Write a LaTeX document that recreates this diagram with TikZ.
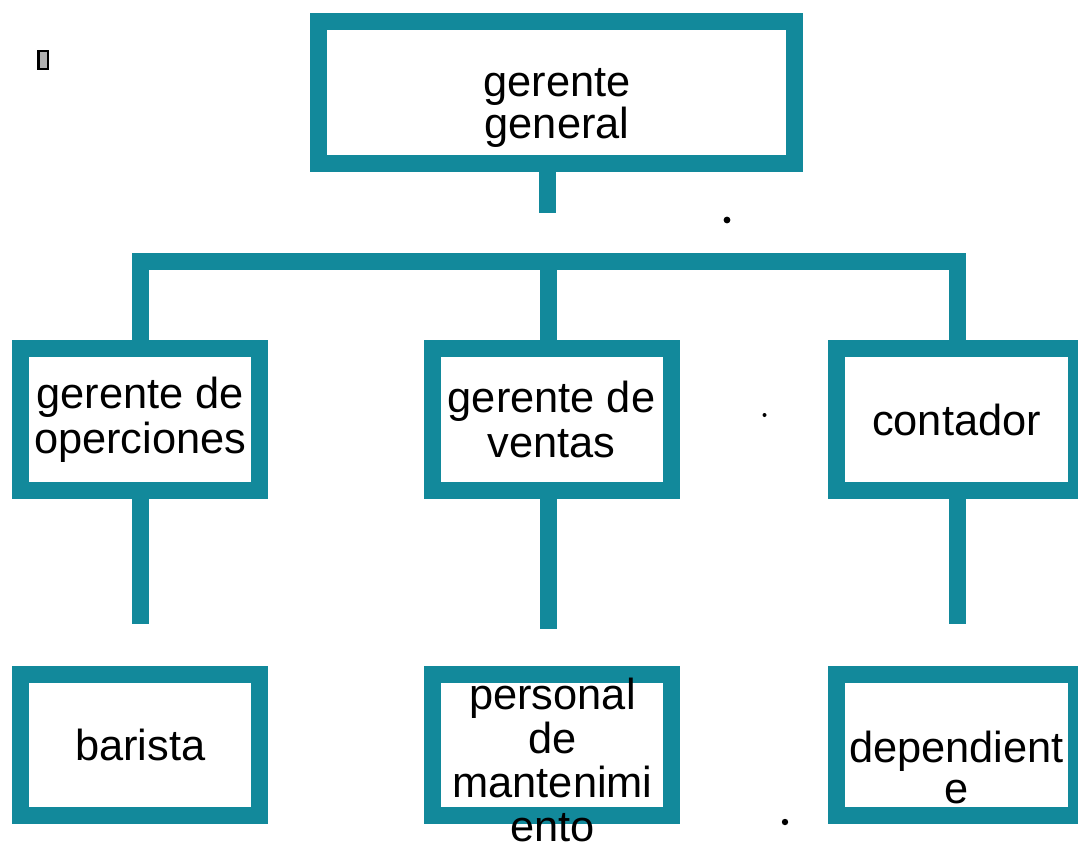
\documentclass[tikz,border=0pt]{standalone}
\usepackage{fontspec}
\setmainfont{Liberation Sans}
\usepackage{xcolor}
\definecolor{orgteal}{HTML}{12899B}
\usepackage{tikz}
\usetikzlibrary{positioning}
\tikzstyle{block} = [rectangle, draw=orgteal, line width=8.5pt, 
    minimum width=119.5pt, minimum height=71pt, align=center,
    font=\fontsize{21.7pt}{22.5pt}\selectfont, node distance=162.75pt]
\tikzstyle{caption} = [align=center, inner sep=0pt,
    font=\fontsize{21.7pt}{22.5pt}\selectfont]
\tikzstyle{line} = [draw=orgteal, line width=8.5pt]

\begin{document}
\begin{tikzpicture}[x=0.5pt,y=-0.5pt]
    \useasboundingbox (0,0) rectangle (1078,848);
    % Place nodes
    \node [block,minimum width=238pt] (gg) at (556.5,92.5) {};
    \node [caption,font=\fontsize{21.7pt}{19pt}\selectfont] (gg-t) at (557,108) {gerente\\general};
    \node [block] (op) at (140.3,419.5) {gerente de\\operciones};
    \node [block,node distance=205.6pt,right of=op] (ve) {gerente de\\ventas};
    \node [block,node distance=202.5pt,minimum width=120pt,right of=ve] (co) {contador};
    \node [block,minimum height=70.5pt,below of=op] (ba) {barista};
    \node [block,minimum height=70.5pt,below of=ve] (pm) {};
    \node [block,minimum height=70.5pt,minimum width=120pt,below of=co] (de) {};
    \node [caption,font=\fontsize{21.7pt}{22pt}\selectfont] (pm-t) at (552.5,760) {personal\\de\\mantenimi\\ento};
    \node [caption,font=\fontsize{21.7pt}{20.5pt}\selectfont] (de-t) at (956.5,767) {dependient\\e};

    %free ends of the stems
    \coordinate (top-end) at (547.5,213);
    \coordinate (bar) at (548,261.5);
    \coordinate (op-end) at (140.5,624);
    \coordinate (ve-end) at (548,629);
    \coordinate (co-end) at (957.5,624);

    % Draw edges
    \path [line] (gg.south -| top-end) -- (top-end);
    \path [line] (op.north -| op-end) |- (bar) -| (co.north -| co-end);
    \path [line] (ve.north -| bar) -- (bar);
    \path [line] (op.south -| op-end) -- (op-end);
    \path [line] (ve.south -| ve-end) -- (ve-end);
    \path [line] (co.south -| co-end) -- (co-end);

    % stray marks
    \fill (727,220) circle (1.7pt);
    \fill (764.5,415) circle (1pt);
    \fill (785,822) circle (1.6pt);
    \draw [line width=1.2pt,fill=gray!60] (38.5,51) rectangle (48,69);
\end{tikzpicture}
\end{document}
